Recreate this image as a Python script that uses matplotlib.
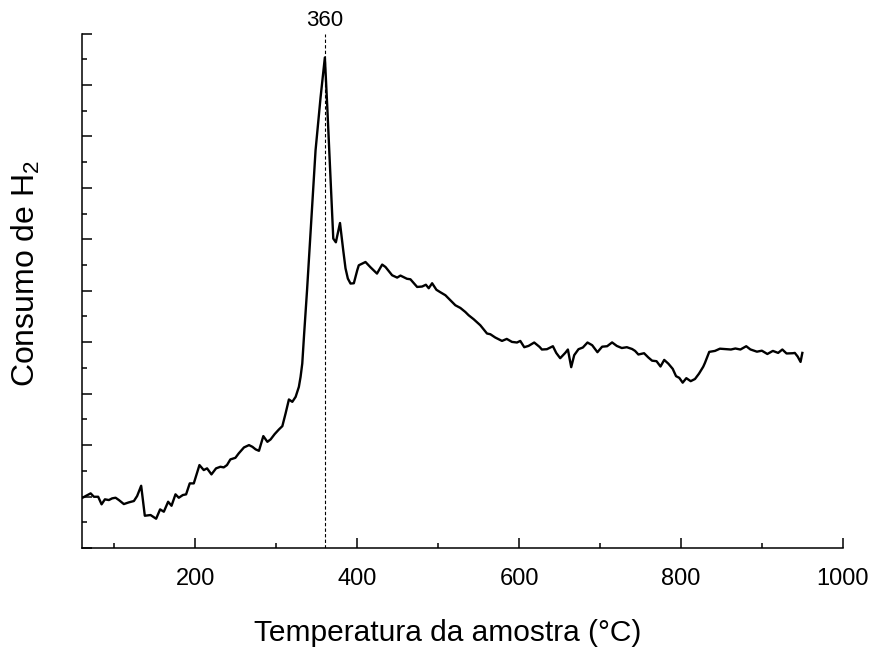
import matplotlib
matplotlib.use('Agg')
import matplotlib.pyplot as plt
from matplotlib.ticker import MultipleLocator, NullFormatter

plt.rcParams['font.family'] = ['Liberation Sans', 'DejaVu Sans']
plt.rcParams['mathtext.fontset'] = 'custom'
plt.rcParams['mathtext.rm'] = 'Liberation Sans'
plt.rcParams['mathtext.it'] = 'Liberation Sans:italic'

# TPR curve (temperature in °C, H2 uptake in arbitrary units)
temperatura = [61, 70.7, 74.7, 80, 84.2, 88.3, 93.2, 97.3, 101.5, 105.6,
               111.7, 117.9, 124.1, 128.1, 133.1, 137.6, 144.7, 151.6, 156.5, 161.1,
               166.4, 170.6, 175.5, 179.6, 184.5, 188.6, 193.1, 198.1, 205.1, 210.4,
               214.5, 219.9, 225.6, 231, 235.1, 239.1, 243.3, 249.5, 253.6, 260.1,
               266.3, 270.5, 274.5, 278.6, 284, 289, 293, 298, 303.3, 307.5,
               311.5, 315.6, 319.8, 323.9, 327.9, 330, 332.1, 334.3, 338, 343,
               348.5, 354.7, 360, 363, 366.2, 369.1, 370.4, 373.6, 378.7, 382.7,
               385.5, 388.4, 391.7, 395.8, 400, 401.9, 410.2, 416.4, 424.4, 430.8,
               434.9, 443.1, 449.3, 453.4, 461.4, 465.7, 474, 480.1, 484.8, 488.3,
               492.5, 497.8, 502.7, 508.9, 515, 521.2, 527.4, 533.5, 537.6, 543.8,
               552, 560.3, 564.4, 570.5, 578.8, 584.7, 591.1, 597.3, 601.4, 606.3,
               611.6, 618.6, 625.2, 628.1, 634.3, 641.7, 645.8, 650.7, 656.9, 660.2,
               664.3, 668, 673.3, 678.7, 684.4, 690.2, 696.7, 702.5, 708.7, 714.8,
               720.6, 726.8, 733, 739.5, 743.2, 747.3, 754.3, 759.6, 764.2, 769.7,
               774.6, 779.2, 784.3, 789.7, 793.8, 797.8, 802, 806.5, 811.9, 817.2,
               822.1, 827.4, 829.5, 834.8, 841.9, 848, 856.3, 861.6, 867.1, 873.3,
               880.5, 885.6, 893.7, 899.8, 906.6, 913.4, 919.9, 925.1, 930.3, 938.1,
               940.5, 944, 947.6, 949.8]
consumo = [0.98, 1.062, 0.996, 0.996, 0.849, 0.946, 0.932, 0.965, 0.977, 0.932,
           0.854, 0.887, 0.913, 1.01, 1.21, 0.627, 0.641, 0.569, 0.751, 0.705,
           0.899, 0.821, 1.043, 0.977, 1.029, 1.043, 1.256, 1.256, 1.612, 1.515,
           1.548, 1.431, 1.548, 1.579, 1.567, 1.612, 1.722, 1.753, 1.839, 1.955,
           2.0, 1.967, 1.917, 1.889, 2.175, 2.064, 2.111, 2.214, 2.305, 2.369,
           2.616, 2.887, 2.841, 2.938, 3.132, 3.326, 3.586, 4.136, 5.01, 6.311,
           7.728, 8.757, 9.534, 8.569, 7.476, 6.505, 6.014, 5.942, 6.317, 5.786,
           5.437, 5.237, 5.14, 5.146, 5.398, 5.495, 5.559, 5.456, 5.334, 5.509,
           5.462, 5.301, 5.256, 5.295, 5.233, 5.223, 5.074, 5.082, 5.117, 5.049,
           5.146, 5.019, 4.971, 4.913, 4.816, 4.718, 4.666, 4.588, 4.524, 4.447,
           4.33, 4.169, 4.155, 4.091, 4.025, 4.064, 4.006, 3.994, 4.025, 3.903,
           3.928, 3.994, 3.909, 3.858, 3.864, 3.922, 3.792, 3.689, 3.792, 3.858,
           3.515, 3.748, 3.864, 3.897, 3.994, 3.942, 3.806, 3.913, 3.922, 3.996,
           3.928, 3.887, 3.903, 3.868, 3.831, 3.761, 3.786, 3.703, 3.641, 3.631,
           3.528, 3.656, 3.583, 3.482, 3.34, 3.307, 3.214, 3.301, 3.243, 3.285,
           3.388, 3.524, 3.598, 3.812, 3.831, 3.874, 3.864, 3.858, 3.878, 3.858,
           3.922, 3.86, 3.816, 3.835, 3.771, 3.831, 3.792, 3.858, 3.781, 3.786,
           3.792, 3.722, 3.617, 3.792]

pico = 360
x_ticks = [200, 400, 600, 800, 1000]

fig = plt.figure(figsize=(8.75, 6.52), dpi=100)
ax = fig.add_axes([0.0937, 0.1595, 0.8697, 0.7891])

ax.plot(temperatura, consumo, color='black', lw=1.7)
ax.axvline(pico, color='black', lw=0.8, ls=(0, (3, 2)))
ax.text(pico, 10.05, str(pico), ha='center', va='bottom', fontsize=16)

ax.set_xlim(60, 1000)
ax.set_ylim(0, 10)
ax.set_xticks(x_ticks)
ax.xaxis.set_minor_locator(MultipleLocator(100))
ax.yaxis.set_major_locator(MultipleLocator(1))
ax.yaxis.set_minor_locator(MultipleLocator(0.5))
ax.yaxis.set_major_formatter(NullFormatter())

for s in ['top', 'right']:
    ax.spines[s].set_visible(False)
for s in ['left', 'bottom']:
    ax.spines[s].set_linewidth(1.1)

ax.tick_params(which='major', direction='in', length=7, width=1.1, labelsize=17, pad=14.5)
ax.tick_params(which='minor', direction='in', length=3.5, width=1.1)

ax.set_xlabel('Temperatura da amostra (°C)', fontsize=21.5)
ax.xaxis.set_label_coords(0.48, -0.138)
ax.set_ylabel('Consumo de H$_2$', fontsize=23)
ax.yaxis.set_label_coords(-0.053, 0.533)

plt.savefig('out.png', dpi=100)
